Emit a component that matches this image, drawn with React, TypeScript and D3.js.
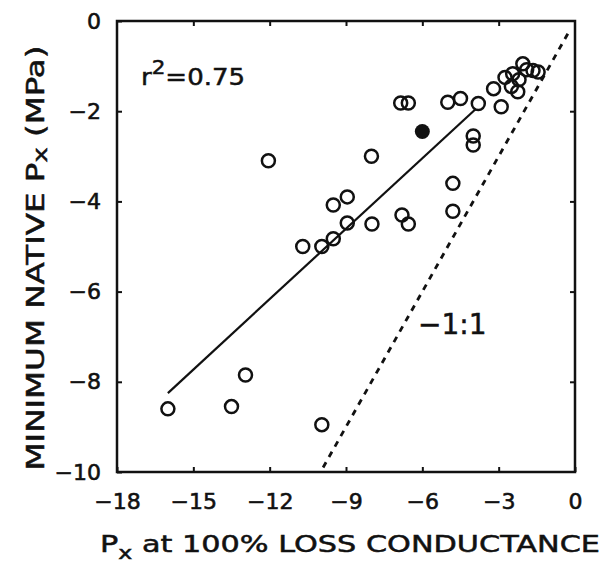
import React, { useEffect, useRef } from 'react';
import * as d3 from 'd3';

// open circles: [P at 100% loss conductance, minimum native P] (MPa)
const openX = [-16.0, -13.5, -12.95, -9.95, -12.05, -8.0, -10.7, -9.95, -9.5, -9.5, -8.95, -8.95, -7.98, -6.8, -6.55, -6.85, -6.55, -5.0, -4.5, -3.8, -4.0, -4.0, -4.8, -4.8, -3.2, -2.9, -2.75, -2.45, -2.25, -2.05, -1.9, -1.65, -1.45, -2.2, -2.5];
const openY = [-8.6, -8.55, -7.85, -8.95, -3.1, -3.0, -5.0, -5.0, -4.83, -4.08, -3.9, -4.48, -4.5, -4.3, -4.5, -1.82, -1.82, -1.8, -1.72, -1.83, -2.55, -2.75, -3.6, -4.22, -1.5, -1.9, -1.25, -1.17, -1.57, -0.95, -1.08, -1.1, -1.13, -1.3, -1.45];
const filledX = [-6.0];
const filledY = [-2.45];

// regression line end points and 1:1 line
const fitX = [-16.0, -3.9];
const fitY = [-8.25, -1.95];
const oneX = [-9.9, -0.2];
const oneY = [-9.9, -0.2];

const xTicks = [-18, -15, -12, -9, -6, -3, 0];
const yTicks = [0, -2, -4, -6, -8, -10];

const W = 613;
const H = 565;
const font = '"DejaVu Sans", Verdana, sans-serif';

export default function App() {
  const ref = useRef<SVGSVGElement | null>(null);

  useEffect(() => {
    const svg = d3.select(ref.current);
    svg.selectAll('*').remove();

    const left = 117, right = 575, top = 21, bottom = 472;
    const x = d3.scaleLinear().domain([-18, 0]).range([left, right]);
    const y = d3.scaleLinear().domain([-10, 0]).range([bottom, top]);

    const g = svg.append('g');

    const styleAxis = (sel: any) => {
      sel.select('.domain').remove();
      sel.selectAll('.tick line').attr('stroke', '#111').attr('stroke-width', 2);
      sel.selectAll('.tick text')
        .attr('font-family', font)
        .attr('font-size', 22)
        .attr('fill', '#111')
        .attr('stroke', '#111')
        .attr('stroke-width', 0.6);
    };

    g.append('g')
      .attr('transform', 'translate(0,' + bottom + ')')
      .call(d3.axisBottom(x).tickValues(xTicks).tickSizeInner(-5).tickSizeOuter(0).tickPadding(21))
      .call(styleAxis);

    g.append('g')
      .attr('transform', 'translate(' + left + ',0)')
      .call(d3.axisLeft(y).tickValues(yTicks).tickSizeInner(-5).tickSizeOuter(0).tickPadding(16))
      .call(styleAxis);

    g.append('g')
      .attr('transform', 'translate(0,' + top + ')')
      .call(d3.axisTop(x).tickValues(xTicks.slice(1, -1)).tickSizeInner(-5).tickSizeOuter(0).tickFormat(() => ''))
      .call(styleAxis);

    g.append('g')
      .attr('transform', 'translate(' + right + ',0)')
      .call(d3.axisRight(y).tickValues(yTicks.slice(1, -1)).tickSizeInner(-5).tickSizeOuter(0).tickFormat(() => ''))
      .call(styleAxis);

    g.append('rect')
      .attr('x', left).attr('y', top)
      .attr('width', right - left).attr('height', bottom - top)
      .attr('fill', 'none').attr('stroke', '#111').attr('stroke-width', 2.5);

    const line = d3.line<number>().x(i => x(fitX[i])).y(i => y(fitY[i]));
    g.append('path')
      .attr('d', line([0, 1]))
      .attr('fill', 'none').attr('stroke', '#111').attr('stroke-width', 2.2);

    const line11 = d3.line<number>().x(i => x(oneX[i])).y(i => y(oneY[i]));
    g.append('path')
      .attr('d', line11([0, 1]))
      .attr('fill', 'none').attr('stroke', '#111').attr('stroke-width', 2.8)
      .attr('stroke-dasharray', '6,6');

    g.selectAll('circle.open')
      .data(d3.range(openX.length))
      .enter()
      .append('circle')
      .attr('class', 'open')
      .attr('cx', i => x(openX[i]))
      .attr('cy', i => y(openY[i]))
      .attr('r', 6.5)
      .attr('fill', 'none')
      .attr('stroke', '#111')
      .attr('stroke-width', 2.5);

    g.selectAll('circle.filled')
      .data(d3.range(filledX.length))
      .enter()
      .append('circle')
      .attr('class', 'filled')
      .attr('cx', i => x(filledX[i]))
      .attr('cy', i => y(filledY[i]))
      .attr('r', 7.5)
      .attr('fill', '#111');

    const heavy = (t: any) => t.attr('fill', '#111').attr('stroke', '#111').attr('stroke-width', 0.5);

    // r^2 annotation
    const r2 = g.append('text')
      .attr('x', 141).attr('y', 85)
      .attr('font-family', font).attr('font-size', 23)
      .attr('textLength', 104).attr('lengthAdjust', 'spacingAndGlyphs')
      .call(heavy);
    r2.append('tspan').text('r');
    r2.append('tspan').attr('dy', -11).attr('font-size', 19).text('2');
    r2.append('tspan').attr('dy', 11).text('=0.75');

    g.append('text')
      .attr('x', 418).attr('y', 334)
      .attr('font-family', font).attr('font-size', 28)
      .call(heavy)
      .text('\u22121:1');

    // axis titles
    const xt = g.append('text')
      .attr('x', 100).attr('y', 552)
      .attr('font-family', font).attr('font-size', 23)
      .attr('textLength', 500).attr('lengthAdjust', 'spacingAndGlyphs')
      .call(heavy);
    xt.append('tspan').text('P');
    xt.append('tspan').attr('dy', 7).attr('font-size', 18).text('x');
    xt.append('tspan').attr('dy', -7).text(' at 100% LOSS CONDUCTANCE');

    const yt = g.append('text')
      .attr('transform', 'translate(44,' + 258 + ') rotate(-90)')
      .attr('text-anchor', 'middle')
      .attr('font-family', font).attr('font-size', 24)
      .attr('textLength', 425).attr('lengthAdjust', 'spacingAndGlyphs')
      .call(heavy);
    yt.append('tspan').text('MINIMUM NATIVE P');
    yt.append('tspan').attr('dy', 3).attr('font-size', 19).text('x');
    yt.append('tspan').attr('dy', -3).text(' (MPa)');
  }, []);

  return (
    <svg
      ref={ref}
      width={W}
      height={H}
      style={{ position: 'absolute', left: 0, top: 0, background: '#fff' }}
    />
  );
}
